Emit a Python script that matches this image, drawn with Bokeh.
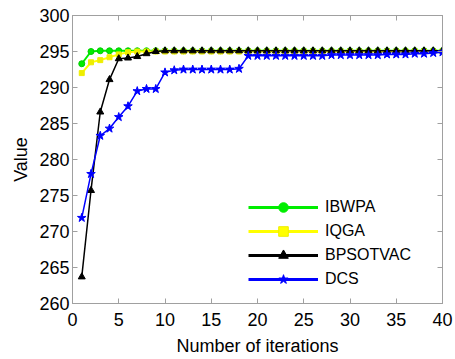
from bokeh.plotting import figure
from bokeh.models import Range1d, FixedTicker, LinearAxis, Legend, LegendItem, ColumnDataSource
from bokeh.embed import file_html
from bokeh.resources import INLINE

iterations = list(range(1, 41))
ibwpa = [293.3, 295.0] + [295.1] * 38
iqga = [292.0, 293.5, 293.8, 294.2, 294.6, 294.9] + [295.0] * 34
bpsotvac = [263.7, 275.7, 286.6, 291.1, 294.0, 294.1, 294.3, 294.7, 295.0] + [295.1] * 31
dcs = ([271.9, 278.0, 283.3, 284.3, 285.9, 287.4, 289.5, 289.8, 289.8, 292.1,
        292.4, 292.5, 292.5, 292.5, 292.5, 292.5, 292.5, 292.6]
       + [294.4] * 9 + [294.5] * 6 + [294.6] * 3 + [294.7, 294.7, 294.8, 294.9])
series_names = ["IBWPA", "IQGA", "BPSOTVAC", "DCS"]
x_ticks = [0, 5, 10, 15, 20, 25, 30, 35, 40]
y_ticks = [260, 265, 270, 275, 280, 285, 290, 295, 300]

FONT = "Liberation Sans"
GRAY = "#a0a0a0"

p = figure(width=455, height=359, output_backend="svg", toolbar_location=None,
           x_range=Range1d(0, 40), y_range=Range1d(260, 300),
           min_border_left=72, min_border_right=13, min_border_top=15, min_border_bottom=56)
p.grid.visible = False
p.outline_line_color = GRAY
p.background_fill_color = "white"

def style_axis(ax, labels=True):
    ax.axis_line_color = GRAY
    ax.major_tick_line_color = GRAY
    ax.major_tick_in = 5
    ax.major_tick_out = 0
    ax.minor_tick_line_color = None
    ax.major_label_text_font = FONT
    ax.major_label_text_font_size = "18px"
    ax.major_label_text_color = "black" if labels else None
    ax.axis_label_text_font = FONT
    ax.axis_label_text_font_size = "18px"
    ax.axis_label_text_font_style = "normal"
    ax.axis_label_text_color = "black"

p.xaxis.ticker = FixedTicker(ticks=x_ticks)
p.yaxis.ticker = FixedTicker(ticks=y_ticks)
style_axis(p.xaxis[0])
style_axis(p.yaxis[0])
p.xaxis.axis_label = "Number of iterations"
p.yaxis.axis_label = "Value"
p.xaxis.major_label_standoff = 9
p.xaxis.axis_label_standoff = 7
p.yaxis.major_label_standoff = 3
p.yaxis.axis_label_standoff = 5

top = LinearAxis(ticker=FixedTicker(ticks=x_ticks))
style_axis(top, labels=False)
right = LinearAxis(ticker=FixedTicker(ticks=y_ticks))
style_axis(right, labels=False)
p.add_layout(top, "above")
p.add_layout(right, "right")

src = ColumnDataSource(dict(x=iterations, ibwpa=ibwpa, iqga=iqga, bp=bpsotvac, dcs=dcs))

p.line("x", "ibwpa", source=src, line_color="#00ee00", line_width=2)
p.scatter("x", "ibwpa", source=src, marker="circle", size=6, fill_color="#00ee00", line_color="#00cc00")
p.line("x", "iqga", source=src, line_color="#ffff00", line_width=2)
p.scatter("x", "iqga", source=src, marker="square", size=5, fill_color="#eeee00", line_color="#eeee00")
p.line("x", "bp", source=src, line_color="black", line_width=1.5)
p.scatter("x", "bp", source=src, marker="triangle", size=7, fill_color="black", line_color="black")
p.line("x", "dcs", source=src, line_color="#0000ff", line_width=1.5)
p.scatter("x", "dcs", source=src, marker="star", size=9, fill_color="#0000ff", line_color="#0000ff")

# legend-only renderers (a single NaN row: nothing is drawn in the plot)
nan = float("nan")
leg_src = ColumnDataSource(dict(x=[nan], y=[nan]))
leg_specs = [("#00ee00", "circle"), ("#ffff00", "square"), ("black", "triangle"), ("#0000ff", "star")]
items = []
for name, (col, mk) in zip(series_names, leg_specs):
    l = p.line("x", "y", source=leg_src, line_color=col, line_width=3)
    s = p.scatter("x", "y", source=leg_src, marker=mk, size=12, fill_color=col,
                  line_color=("#eeee00" if col == "#ffff00" else col))
    items.append(LegendItem(label=name, renderers=[l, s]))

legend = Legend(items=items, location=(176, 12))
legend.glyph_width = 70
legend.glyph_height = 24
legend.spacing = 0
legend.padding = 10
legend.margin = 0
legend.label_standoff = 7
legend.label_text_font = FONT
legend.label_text_font_size = "16px"
legend.label_text_color = "black"
legend.border_line_color = None
legend.background_fill_alpha = 0
p.add_layout(legend, "center")

open("out.html", "w").write(file_html(p, INLINE))
